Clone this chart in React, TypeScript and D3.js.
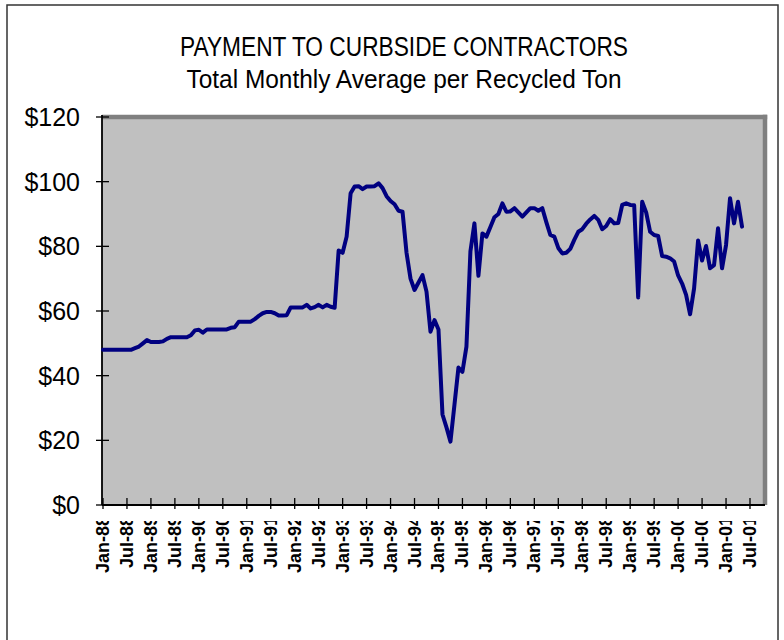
import React from "react";
import * as d3 from "d3";

const titleLines = ["PAYMENT TO CURBSIDE CONTRACTORS", "Total Monthly Average per Recycled Ton"];

// Monthly payment per recycled ton, Jan-88 (index 0) onward
const payment: number[] = [
  48, 48, 48, 48, 48, 48, 48, 48,
  48.5, 49, 50, 51, 50.4, 50.4, 50.4, 50.6,
  51.4, 51.9, 51.9, 51.9, 51.9, 51.9, 52.5, 54,
  54.2, 53.3, 54.3, 54.3, 54.3, 54.3, 54.3, 54.3,
  54.8, 55, 56.7, 56.7, 56.7, 56.7, 57.5, 58.5,
  59.3, 59.7, 59.7, 59.3, 58.6, 58.6, 58.7, 61.1,
  61.1, 61.1, 61.1, 61.9, 60.8, 61.2, 61.9, 61.1,
  61.9, 61.3, 61, 78.7, 78, 83, 96.4, 98.5,
  98.6, 97.7, 98.5, 98.5, 98.6, 99.5, 98, 95.5,
  94, 93, 91, 90.7, 78, 70, 66.5, 68.8,
  71.1, 66, 53.6, 57.2, 54.3, 28, 24, 19.6,
  31, 42.5, 41.2, 49, 78.5, 87.1, 70.9, 84,
  83, 86, 89, 90, 93.3, 90.7, 90.8, 91.8,
  90.5, 89.2, 90.5, 91.8, 91.8, 91, 91.8, 87.5,
  83.5, 83, 79.5, 77.8, 78, 79.2, 82, 84.5,
  85.3, 87, 88.3, 89.4, 88.2, 85.3, 86.3, 88.4,
  87.1, 87.2, 92.8, 93.3, 92.8, 92.7, 64.2, 93.8,
  90.5, 84.5, 83.5, 83.2, 77, 76.8, 76.3, 75.3,
  71, 68.5, 65, 59, 67, 81.8, 75.6, 80.1,
  73.2, 74.2, 85.6, 73.2, 80.4, 94.9, 87.1, 93.8, 86.1,
];

const xTickLabels = [
  "Jan-88", "Jul-88", "Jan-89", "Jul-89", "Jan-90", "Jul-90", "Jan-91", "Jul-91",
  "Jan-92", "Jul-92", "Jan-93", "Jul-93", "Jan-94", "Jul-94", "Jan-95", "Jul-95",
  "Jan-96", "Jul-96", "Jan-97", "Jul-97", "Jan-98", "Jul-98", "Jan-99", "Jul-99",
  "Jan-00", "Jul-00", "Jan-01", "Jul-01",
];
const yTicks = [0, 20, 40, 60, 80, 100, 120];

export default function App() {
  const W = 784, H = 640;
  const left = 102, right = 765, top = 117, bottom = 505;
  const x = d3.scaleLinear().domain([0, 162]).range([103, 750]);
  const y = d3.scaleLinear().domain([0, 120]).range([bottom, top]);
  const line = d3.line<number>().x((_, i) => x(i)).y((d) => y(d));
  const font = "'Liberation Sans', Arial, sans-serif";

  return (
    <svg width={W} height={H} style={{ position: "absolute", left: 0, top: 0, background: "#fff" }} fontFamily={font}>
      <defs>
        <clipPath id="xlabclip">
          <rect x={0} y={521} width={W} height={H - 521} />
        </clipPath>
      </defs>
      {/* outer frame */}
      <rect x={7} y={5} width={771} height={H + 10} fill="none" stroke="#333" strokeWidth={1.5} />
      {/* titles */}
      <text x={404} y={56} textAnchor="middle" fontSize={27} textLength={448} lengthAdjust="spacingAndGlyphs">{titleLines[0]}</text>
      <text x={404} y={88} textAnchor="middle" fontSize={26} textLength={435} lengthAdjust="spacingAndGlyphs">{titleLines[1]}</text>
      {/* plot area */}
      <rect x={left} y={top} width={right - left} height={bottom - top} fill="#C0C0C0" />
      <line x1={left} y1={top} x2={right + 2.2} y2={top} stroke="#808080" strokeWidth={4.5} />
      <line x1={right} y1={top - 2.2} x2={right} y2={bottom} stroke="#808080" strokeWidth={4.5} />
      {/* axes */}
      <line x1={left} y1={top - 2} x2={left} y2={bottom} stroke="#000" strokeWidth={1.8} />
      <line x1={left} y1={bottom} x2={right} y2={bottom} stroke="#000" strokeWidth={1.8} />
      {yTicks.map((t) => (
        <g key={t}>
          <line x1={96} x2={109} y1={y(t)} y2={y(t)} stroke="#000" strokeWidth={1.3} />
          <text x={80} y={y(t)} textAnchor="end" dominantBaseline="central" fontSize={25}>{`$${t}`}</text>
        </g>
      ))}
      {xTickLabels.map((lab, i) => {
        const xx = x(i * 6);
        return (
          <g key={lab}>
            <line x1={xx} x2={xx} y1={498} y2={509} stroke="#000" strokeWidth={1.3} />
            <g clipPath="url(#xlabclip)">
              <text
                transform={`translate(${xx},516) rotate(-90)`}
                textAnchor="end"
                dominantBaseline="central"
                fontSize={18}
                fontWeight="bold"
              >
                {lab}
              </text>
            </g>
          </g>
        );
      })}
      {/* data line */}
      <path d={line(payment) || ""} fill="none" stroke="#000080" strokeWidth={4} strokeLinejoin="round" strokeLinecap="round" />
    </svg>
  );
}
